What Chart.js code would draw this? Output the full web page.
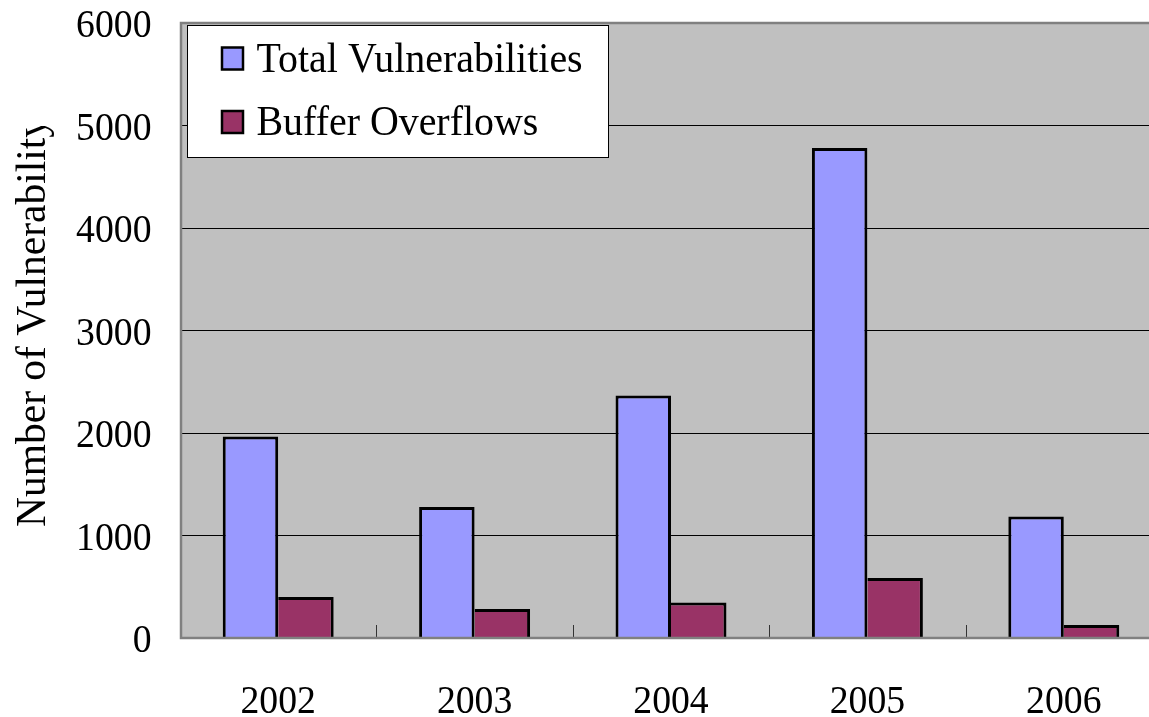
<!DOCTYPE html>
<html>
<head>
<meta charset="utf-8">
<script src="https://cdn.jsdelivr.net/npm/chart.js@4.4.1/dist/chart.umd.min.js"></script>
<style>
  html, body { margin: 0; padding: 0; background: #fff; overflow: hidden; }
  #wrap { position: relative; width: 1170px; height: 717px; }
</style>
</head>
<body>
<div id="wrap"><canvas id="chart"></canvas></div>
<script>
// Yearly counts of reported vulnerabilities
const years = ['2002', '2003', '2004', '2005', '2006'];
const totalVulnerabilities = [1965, 1278, 2367, 4780, 1186];
const bufferOverflows = [400, 283, 347, 585, 127];
const seriesNames = ['Total Vulnerabilities', 'Buffer Overflows'];
const yMin = 0;
const yMax = 6000;
const yStep = 1000;
const yTitle = 'Number of Vulnerability';

const SERIF = '"Liberation Serif", "Times New Roman", serif';
const TICK_SQUEEZE = 0.92;     // narrow horizontal lettering on the axes
const LEGEND_SQUEEZE = 0.95;

// Grey plot background
const plotBackground = {
  id: 'plotBackground',
  beforeDraw(chart) {
    const { ctx, chartArea: a } = chart;
    ctx.save();
    ctx.fillStyle = '#C0C0C0';
    ctx.fillRect(a.left, a.top, a.right - a.left, a.bottom - a.top);
    ctx.restore();
  }
};

function squeezedText(ctx, text, x, y, align, squeeze) {
  ctx.save();
  ctx.translate(x, y);
  ctx.scale(squeeze, 1);
  ctx.textAlign = align;
  ctx.textBaseline = 'alphabetic';
  ctx.fillText(text, 0, 0);
  ctx.restore();
}

// Frame, tick marks, axis labels, legend and axis title
const decorations = {
  id: 'decorations',
  afterDatasetsDraw(chart) {
    const { ctx, chartArea: a, scales } = chart;
    const xs = scales.x, ys = scales.y;
    ctx.save();

    // short inward tick marks between categories
    ctx.strokeStyle = '#333';
    ctx.lineWidth = 1;
    const n = chart.data.labels.length;
    for (let i = 1; i <= n; i++) {
      const x = i < n ? (xs.getPixelForValue(i - 1) + xs.getPixelForValue(i)) / 2 : a.right;
      const px = Math.round(x) + 0.5;
      ctx.beginPath();
      ctx.moveTo(px, a.bottom);
      ctx.lineTo(px, a.bottom - 13);
      ctx.stroke();
    }

    // plot frame
    ctx.strokeStyle = '#808080';
    ctx.lineWidth = 2.5;
    ctx.strokeRect(a.left + 1, a.top, a.right - a.left, a.bottom - a.top);

    // value labels on the left
    ctx.fillStyle = '#000';
    ctx.font = '41px ' + SERIF;
    ys.ticks.forEach(t => {
      const y = ys.getPixelForValue(t.value);
      squeezedText(ctx, String(t.value), 151.5, y + 14, 'right', TICK_SQUEEZE);
    });

    // year labels under the bars
    chart.data.labels.forEach((lab, i) => {
      squeezedText(ctx, lab, xs.getPixelForValue(i), 712.5, 'center', TICK_SQUEEZE);
    });

    // legend
    ctx.fillStyle = '#fff';
    ctx.fillRect(187.5, 25.5, 421, 132);
    ctx.strokeStyle = '#000';
    ctx.lineWidth = 1;
    ctx.strokeRect(187.5, 25.5, 421, 132);
    const baselines = [71.5, 135];
    ctx.font = '42px ' + SERIF;
    chart.data.datasets.forEach((ds, i) => {
      const b = baselines[i];
      ctx.fillStyle = ds.backgroundColor;
      ctx.fillRect(222, b - 24, 21, 22);
      ctx.strokeStyle = '#000';
      ctx.lineWidth = 2.5;
      ctx.strokeRect(222, b - 24, 21, 22);
      ctx.fillStyle = '#000';
      squeezedText(ctx, ds.label, 256.5, b, 'left', LEGEND_SQUEEZE);
    });

    // vertical axis title, its top end cut off by the text frame
    ctx.save();
    ctx.beginPath();
    ctx.rect(0, 126, 120, 600);
    ctx.clip();
    ctx.translate(45, 527);
    ctx.rotate(-Math.PI / 2);
    ctx.font = '41.5px ' + SERIF;
    ctx.fillStyle = '#000';
    ctx.textAlign = 'left';
    ctx.textBaseline = 'alphabetic';
    ctx.fillText(yTitle, 0, 0);
    ctx.restore();

    ctx.restore();
  }
};

new Chart(document.getElementById('chart'), {
  type: 'bar',
  data: {
    labels: years,
    datasets: [
      {
        label: seriesNames[0],
        data: totalVulnerabilities,
        backgroundColor: '#9999FF',
        borderColor: '#000',
        borderWidth: { top: 3, left: 3, right: 3, bottom: 0 }
      },
      {
        label: seriesNames[1],
        data: bufferOverflows,
        backgroundColor: '#993366',
        borderColor: '#000',
        borderWidth: { top: 3, left: 0, right: 3, bottom: 0 }
      }
    ]
  },
  options: {
    responsive: true,
    maintainAspectRatio: false,
    animation: false,
    devicePixelRatio: 1,
    categoryPercentage: 0.565,
    barPercentage: 1,
    layout: { padding: { left: 180, top: 23, right: 8, bottom: 79 } },
    plugins: {
      legend: { display: false },
      title: { display: false },
      tooltip: { enabled: false }
    },
    scales: {
      x: {
        offset: true,
        grid: { display: false, drawTicks: false },
        border: { display: false },
        ticks: { display: false }
      },
      y: {
        min: yMin,
        max: yMax,
        ticks: { display: false, stepSize: yStep },
        grid: { color: '#000', lineWidth: 1, drawTicks: false },
        border: { display: false }
      }
    }
  },
  plugins: [plotBackground, decorations]
});
</script>
</body>
</html>
